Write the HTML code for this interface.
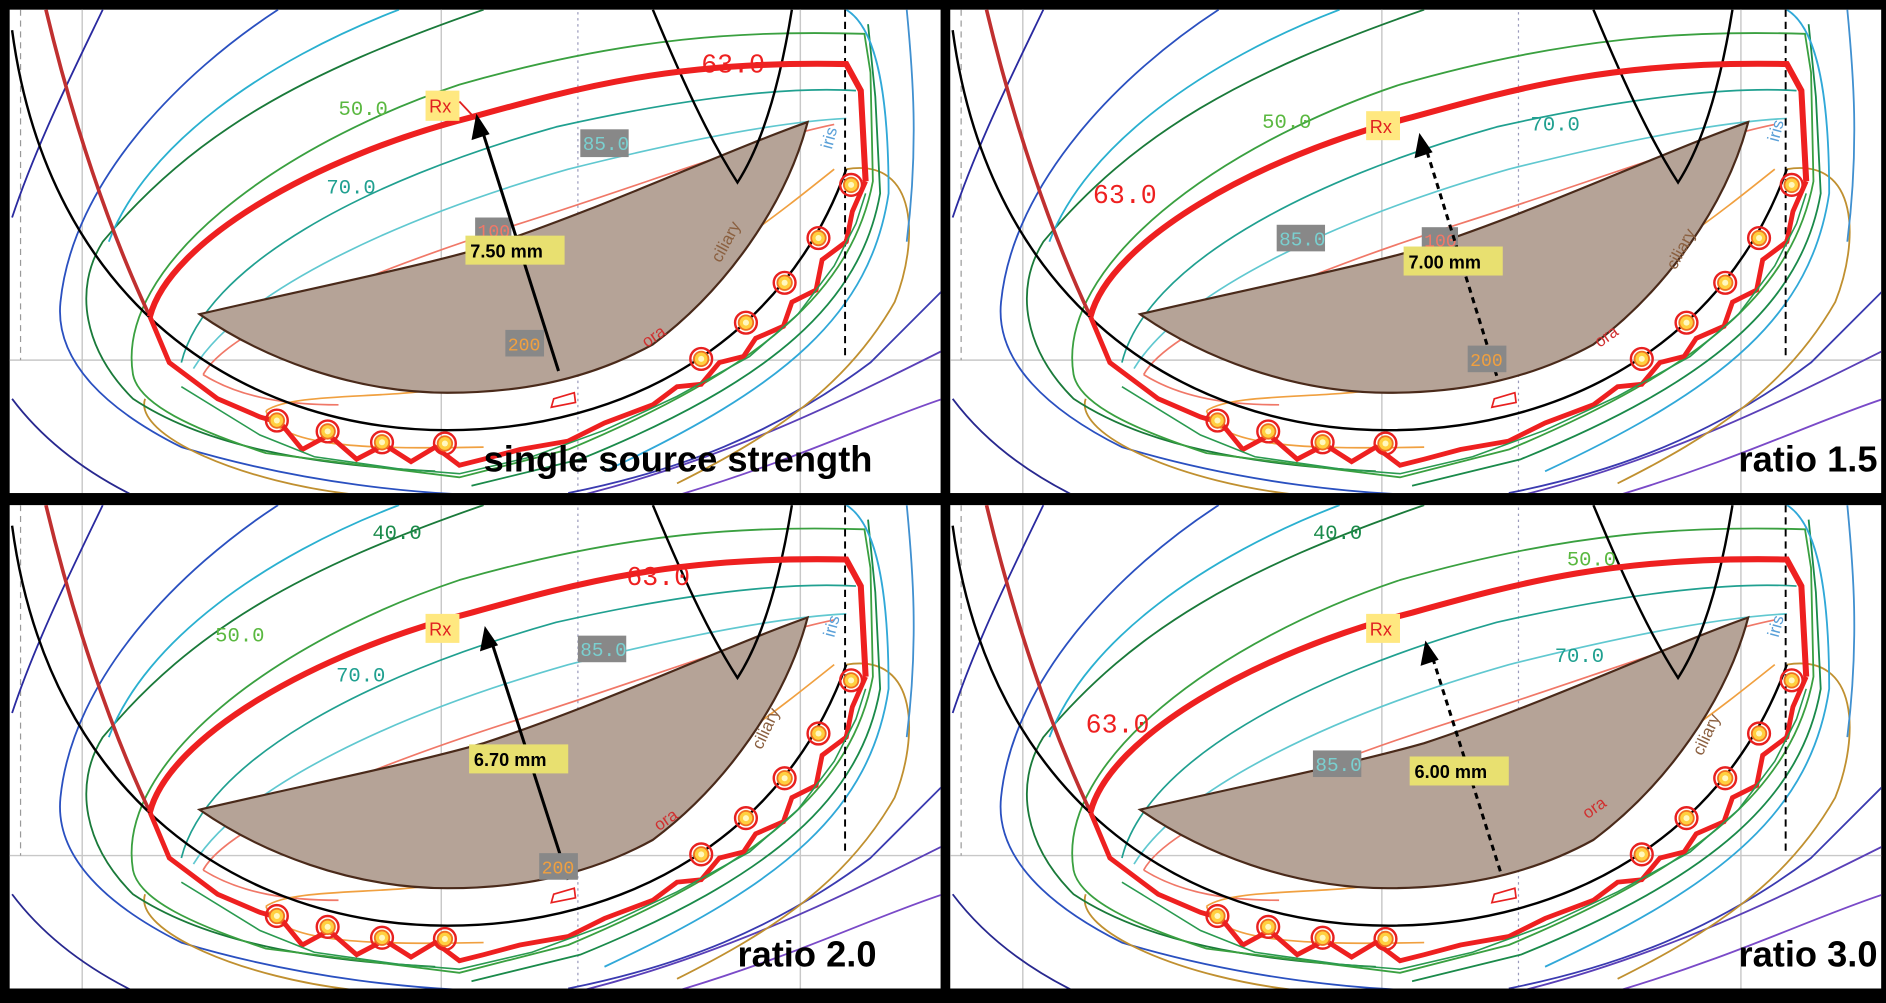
<!DOCTYPE html>
<html><head><meta charset="utf-8"><style>
html,body{margin:0;padding:0;background:#000;}
svg{display:block}
text{font-family:"Liberation Sans",sans-serif}
.m{font-family:"Liberation Mono","DejaVu Sans Mono",monospace}
</style></head><body>
<svg width="1886" height="1003" viewBox="0 0 1560 830" preserveAspectRatio="none" xmlns="http://www.w3.org/2000/svg">
<defs>
<clipPath id="cp"><rect x="8" y="8" width="770" height="400"/></clipPath>
<g id="seed"><circle r="9" fill="none" stroke="#e82020" stroke-width="2"/><circle r="6" fill="#ffd040" stroke="#f07020" stroke-width="1.5"/><circle r="2.5" fill="#fff8c0"/></g>
<g id="base">
<rect x="8" y="8" width="770" height="400" fill="#fff"/>
<g clip-path="url(#cp)">
<g stroke="#c8c8c8" stroke-width="1.2" fill="none">
<line x1="68" y1="0" x2="68" y2="410"/><line x1="365" y1="0" x2="365" y2="410"/><line x1="662" y1="0" x2="662" y2="410"/>
<line x1="8" y1="298" x2="780" y2="298"/>
</g>
<line x1="478" y1="0" x2="478" y2="410" stroke="#99b" stroke-dasharray="2,3"/>
<line x1="17" y1="8" x2="17" y2="298" stroke="#999" stroke-dasharray="5,4"/>
<g fill="none" stroke-width="1.5">
<path d="M85,8 C60,60 30,120 10,180" stroke="#2a2aa0"/>
<path d="M10,330 C40,370 80,395 110,410" stroke="#28288f"/>
<path d="M230,8 C150,60 60,150 50,250 C45,300 90,340 150,370 C250,400 350,410 420,410" stroke="#2a50c0"/>
<path d="M470,408 C560,390 640,360 720,300 C750,270 770,250 780,240" stroke="#3a3ab0"/>
<path d="M480,410 C600,380 700,330 780,290" stroke="#5a40b8"/>
<path d="M560,410 C660,380 720,350 780,330" stroke="#7a4ac8"/>
<path d="M120,330 C110,360 200,400 300,410 M560,400 C640,360 700,320 740,250 C760,200 760,130 700,140" stroke="#c09030"/>
<path d="M400,8 C250,60 160,110 85,200 C60,240 70,290 110,330 C170,370 260,385 360,390" stroke="#1a7a3a"/>
<path d="M330,8 C220,50 120,120 90,200" stroke="#2ab0d0"/>
<path d="M110,310 C95,220 230,120 380,70 C520,30 620,25 715,28 L720,60 L722,150 C705,240 630,305 470,372 L380,395 L220,375 C160,355 115,335 110,310" stroke="#3aa040"/>
<path d="M718,20 L724,80 L728,160 C712,250 640,315 480,380 L390,402" stroke="#1a8a4a"/>
<path d="M700,8 C720,20 735,60 735,160 C720,260 650,320 500,390" stroke="#30a8d8"/>
<path d="M750,8 C755,60 760,120 750,200" stroke="#4090d0"/>
</g>
<g fill="none" stroke-width="1.4">
<path d="M150,300 C170,220 300,150 460,105 C580,78 660,72 708,75" stroke="#20a090"/>
<path d="M160,305 C200,240 330,180 470,140 C590,110 660,100 700,98" stroke="#60c8d0"/>
<path d="M168,310 C190,270 320,220 430,185 C540,150 630,115 690,103" stroke="#f07868"/>
<path d="M168,310 C200,330 240,335 280,335" stroke="#f07868"/>
<path d="M220,340 C240,325 320,330 360,322 C420,310 470,270 520,250 C590,220 640,180 690,140" stroke="#f0a040"/>
<path d="M220,340 C230,370 300,372 400,370" stroke="#f0a040"/>
<path d="M458,330 L475,325 L476,333 L456,337 Z" stroke="#e82020"/>
</g>
<path d="M38,8 C60,100 90,190 124,262" fill="none" stroke="#c03030" stroke-width="3"/>
<path d="M10,25 C40,250 200,356 370,356 C520,356 650,280 700,140" fill="none" stroke="#000" stroke-width="2"/>
<path d="M165,260 C260,238 340,222 400,205 C500,172 600,125 668,101 C650,170 600,240 540,285 C480,318 420,325 370,325 C290,325 215,295 165,260 Z" fill="#b5a397" stroke="#4a2a1a" stroke-width="1.8"/>
<path d="M540,8 C570,80 590,120 610,151 C630,120 645,70 655,8" fill="none" stroke="#000" stroke-width="2"/>
<line x1="699" y1="8" x2="699" y2="298" stroke="#000" stroke-width="1.6" stroke-dasharray="6,4"/>
<path d="M124,262 C140,200 260,130 390,97 C480,72 560,50 700,53 L712,75 L716,150" fill="none" stroke="#ee2020" stroke-width="5"/>
<path d="M716,150 L705,175 L700,200 L680,215 L675,240 L655,250 L648,270 L625,280 L615,295 L595,300 L580,318 L560,320 L540,335 L500,350 L470,365 L430,372 L400,380 L380,385 L360,370 L340,382 L318,368 L295,380 L272,360 L250,372 L232,350 L215,345 L180,330 L140,300 L124,262" fill="none" stroke="#ee2020" stroke-width="4"/>
<g fill="none" stroke-width="1.3" stroke="#2a9a50"><path d="M716,160 L708,185 L690,220 L660,260 L620,295 L560,328 L500,356 L440,378 L380,392 L330,388 L260,378 L215,360 L150,320"/></g>
<use href="#seed" x="229" y="348"/><use href="#seed" x="271" y="357"/><use href="#seed" x="316" y="366"/><use href="#seed" x="368" y="367"/>
<use href="#seed" x="580" y="297"/><use href="#seed" x="617" y="267"/><use href="#seed" x="649" y="234"/><use href="#seed" x="677" y="197"/><use href="#seed" x="704" y="153"/>
</g>
</g>
</defs>

<rect x="0" y="0" width="1560" height="830" fill="#000"/>
<g transform="translate(8,6)"><use href="#base" transform="translate(-8,-6)"/>
<text x="572" y="54" font-size="22" fill="#ee2020" class="m">63.0</text>
<text x="272" y="89" font-size="17" fill="#5ab840" class="m">50.0</text>
<text x="262" y="154" font-size="17" fill="#20a090" class="m">70.0</text>
<rect x="472" y="101" width="40" height="23" fill="#888"/><text x="474" y="118" font-size="16" fill="#7ad0d0" class="m">85.0</text>
<rect x="385" y="174" width="30" height="20" fill="#888"/><text x="387" y="190" font-size="15" fill="#f07868" class="m">100</text>
<rect x="344" y="69" width="28" height="25" fill="#ffe880"/><text x="347" y="87" font-size="15" fill="#e02020">Rx</text>
<line x1="372" y1="78" x2="387" y2="94" stroke="#e02020" stroke-width="1.5"/>
<line x1="454" y1="301" x2="389" y2="96" stroke="#000" stroke-width="2.5"/><polygon points="386,88 382,110 397,105" fill="#000"/>
<rect x="377" y="189" width="82" height="24" fill="#e8e070"/><text x="381" y="207" font-size="15" font-weight="bold">7.50 mm</text>
<rect x="410" y="267" width="32" height="22" fill="#888"/><text x="412" y="284" font-size="15" fill="#f0a040" class="m">200</text>
<text x="588" y="212" font-size="14" fill="#8b6040" transform="rotate(-62 588 212)">ciliary</text>
<text x="527" y="282" font-size="14" fill="#d03030" transform="rotate(-35 527 282)">ora</text>
<text x="680" y="118" font-size="14" fill="#5aa0d8" transform="rotate(-75 680 118)">iris</text>
<text x="392" y="384" font-size="30" font-weight="bold" fill="#000">single source strength</text>
</g>
<g transform="translate(786,6)"><use href="#base" transform="translate(-8,-6)"/>
<text x="118" y="162" font-size="22" fill="#ee2020" class="m">63.0</text>
<text x="258" y="100" font-size="17" fill="#5ab840" class="m">50.0</text>
<text x="480" y="102" font-size="17" fill="#20a090" class="m">70.0</text>
<rect x="270" y="180" width="40" height="22" fill="#888"/><text x="272" y="197" font-size="16" fill="#7ad0d0" class="m">85.0</text>
<rect x="390" y="182" width="30" height="20" fill="#888"/><text x="392" y="198" font-size="15" fill="#f07868" class="m">100</text>
<rect x="344" y="86" width="28" height="24" fill="#ffe880"/><text x="347" y="104" font-size="15" fill="#e02020">Rx</text>
<line x1="452" y1="305" x2="392" y2="112" stroke="#000" stroke-width="2.5" stroke-dasharray="5,4"/><polygon points="388,104 384,125 399,120" fill="#000"/>
<rect x="375" y="198" width="82" height="24" fill="#e8e070"/><text x="379" y="216" font-size="15" font-weight="bold">7.00 mm</text>
<rect x="428" y="280" width="32" height="22" fill="#888"/><text x="430" y="297" font-size="15" fill="#f0a040" class="m">200</text>
<text x="600" y="218" font-size="14" fill="#8b6040" transform="rotate(-62 600 218)">ciliary</text>
<text x="537" y="282" font-size="14" fill="#d03030" transform="rotate(-35 537 282)">ora</text>
<text x="685" y="112" font-size="14" fill="#5aa0d8" transform="rotate(-75 685 112)">iris</text>
<text x="652" y="384" font-size="30" font-weight="bold" fill="#000">ratio 1.5</text>
</g>
<g transform="translate(8,416)"><use href="#base" transform="translate(-8,-6)"/>
<text x="510" y="68" font-size="22" fill="#ee2020" class="m">63.0</text>
<text x="300" y="30" font-size="17" fill="#1a8a4a" class="m">40.0</text>
<text x="170" y="115" font-size="17" fill="#5ab840" class="m">50.0</text>
<text x="270" y="148" font-size="17" fill="#20a090" class="m">70.0</text>
<rect x="470" y="110" width="40" height="22" fill="#888"/><text x="472" y="127" font-size="16" fill="#7ad0d0" class="m">85.0</text>
<rect x="344" y="92" width="28" height="24" fill="#ffe880"/><text x="347" y="110" font-size="15" fill="#e02020">Rx</text>
<line x1="462" y1="312" x2="397" y2="110" stroke="#000" stroke-width="2.5"/><polygon points="393,102 389,123 404,118" fill="#000"/>
<rect x="380" y="200" width="82" height="24" fill="#e8e070"/><text x="384" y="218" font-size="15" font-weight="bold">6.70 mm</text>
<rect x="438" y="290" width="32" height="22" fill="#888"/><text x="440" y="307" font-size="15" fill="#f0a040" class="m">200</text>
<text x="622" y="205" font-size="14" fill="#8b6040" transform="rotate(-65 622 205)">ciliary</text>
<text x="537" y="272" font-size="14" fill="#d03030" transform="rotate(-35 537 272)">ora</text>
<text x="682" y="112" font-size="14" fill="#5aa0d8" transform="rotate(-75 682 112)">iris</text>
<text x="602" y="384" font-size="30" font-weight="bold" fill="#000">ratio 2.0</text>
</g>
<g transform="translate(786,416)"><use href="#base" transform="translate(-8,-6)"/>
<text x="112" y="190" font-size="22" fill="#ee2020" class="m">63.0</text>
<text x="300" y="30" font-size="17" fill="#1a8a4a" class="m">40.0</text>
<text x="510" y="52" font-size="17" fill="#5ab840" class="m">50.0</text>
<text x="500" y="132" font-size="17" fill="#20a090" class="m">70.0</text>
<rect x="300" y="205" width="40" height="22" fill="#888"/><text x="302" y="222" font-size="16" fill="#7ad0d0" class="m">85.0</text>
<rect x="344" y="92" width="28" height="24" fill="#ffe880"/><text x="347" y="110" font-size="15" fill="#e02020">Rx</text>
<line x1="455" y1="305" x2="397" y2="122" stroke="#000" stroke-width="2.5" stroke-dasharray="5,4"/><polygon points="393,114 389,135 404,130" fill="#000"/>
<rect x="380" y="210" width="82" height="24" fill="#e8e070"/><text x="384" y="228" font-size="15" font-weight="bold">6.00 mm</text>
<text x="622" y="210" font-size="14" fill="#8b6040" transform="rotate(-65 622 210)">ciliary</text>
<text x="527" y="262" font-size="14" fill="#d03030" transform="rotate(-35 527 262)">ora</text>
<text x="685" y="112" font-size="14" fill="#5aa0d8" transform="rotate(-75 685 112)">iris</text>
<text x="652" y="384" font-size="30" font-weight="bold" fill="#000">ratio 3.0</text>
</g>
</svg>
</body></html>
